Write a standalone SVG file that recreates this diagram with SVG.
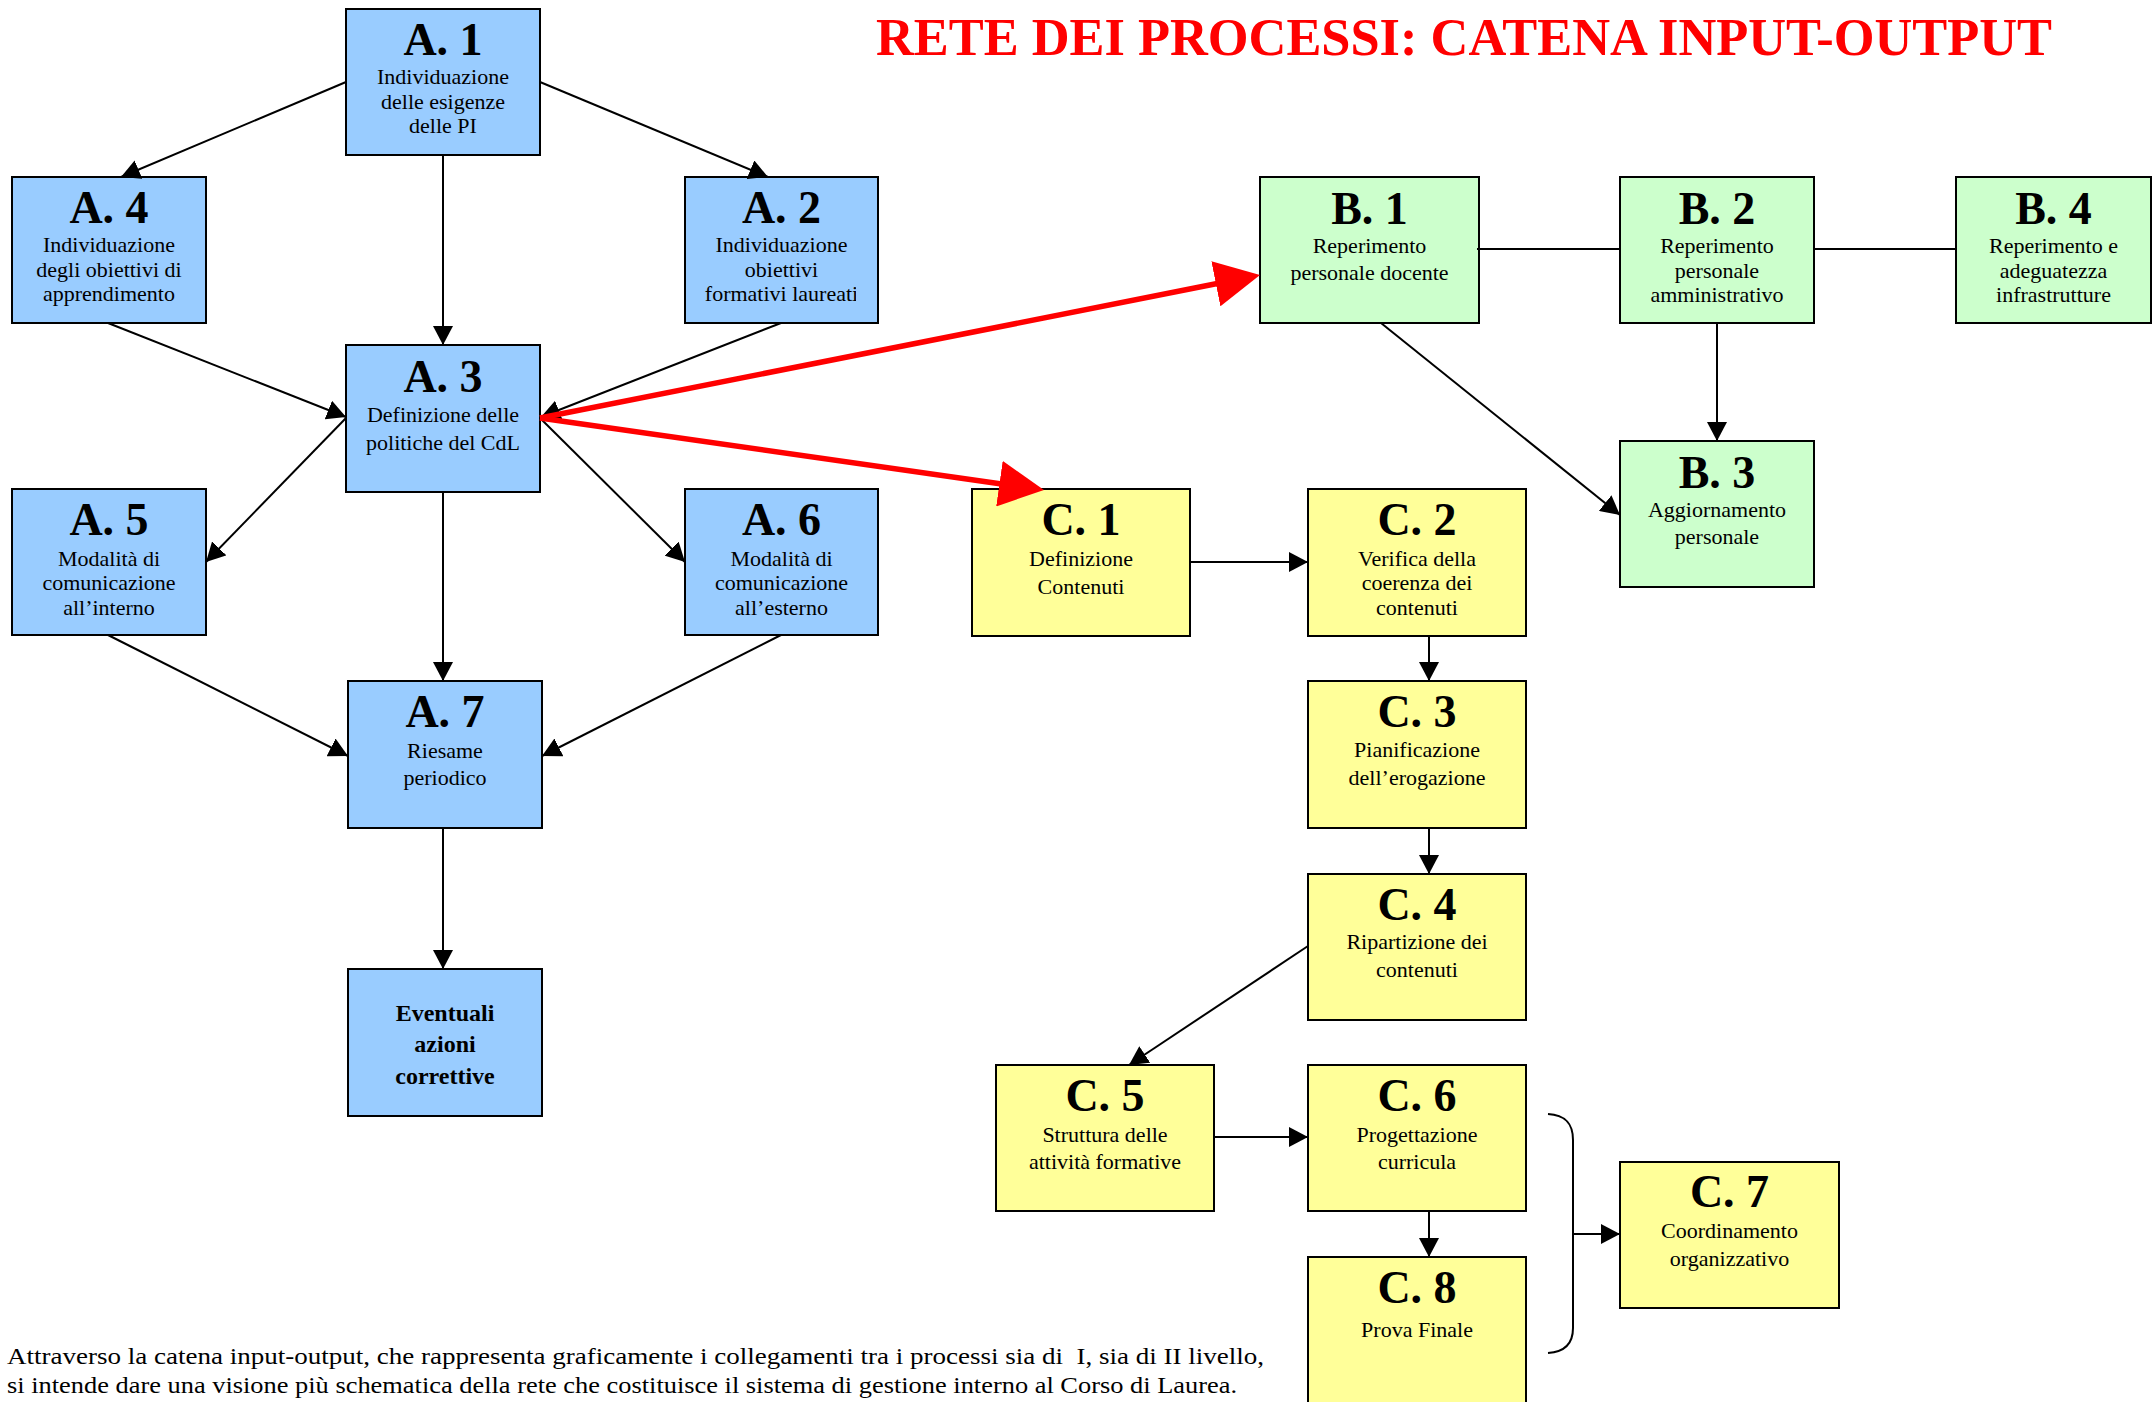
<svg xmlns="http://www.w3.org/2000/svg" width="2152" height="1402" viewBox="0 0 2152 1402">
<style>
.bx{stroke:#000;stroke-width:2}
.blue{fill:#99CCFF}
.green{fill:#CCFFCC}
.yellow{fill:#FFFF99}
text{font-family:"Liberation Serif","Times New Roman",serif;fill:#000}
.t{font-weight:bold;font-size:46px;text-anchor:middle}
.b{font-size:22px;text-anchor:middle}
.e{font-weight:bold;font-size:24px;text-anchor:middle}
.ln{stroke:#000;stroke-width:2;fill:none}
.arr{marker-end:url(#ah)}
.red{stroke:#FF0000;stroke-width:5.5;fill:none;marker-end:url(#rh)}
.title{font-weight:bold;font-size:52px;fill:#FF0000}
.desc{font-size:23px;white-space:pre}
</style>
<defs>
<marker id="ah" markerUnits="userSpaceOnUse" markerWidth="20" markerHeight="20" refX="19" refY="10" orient="auto">
<path d="M0,0 L19,10 L0,20 z" fill="#000"/>
</marker>
<marker id="rh" markerUnits="userSpaceOnUse" markerWidth="46" markerHeight="46" refX="4" refY="23" orient="auto">
<path d="M0,0 L45,23 L0,46 z" fill="#FF0000"/>
</marker>
<clipPath id="clipA2"><rect x="685" y="177" width="171" height="146"/></clipPath>
</defs>
<rect width="2152" height="1402" fill="#fff"/>

<text class="title" x="876" y="55" textLength="1176" lengthAdjust="spacingAndGlyphs">RETE DEI PROCESSI: CATENA INPUT-OUTPUT</text>

<g id="A1"><rect class="bx blue" x="346" y="9" width="194" height="146"/>
<text class="t" x="443" y="55">A. 1</text>
<text class="b" x="443" y="84">Individuazione</text>
<text class="b" x="443" y="108.5">delle esigenze</text>
<text class="b" x="443" y="133">delle PI</text></g>

<g id="A4"><rect class="bx blue" x="12" y="177" width="194" height="146"/>
<text class="t" x="109" y="223">A. 4</text>
<text class="b" x="109" y="252">Individuazione</text>
<text class="b" x="109" y="276.5">degli obiettivi di</text>
<text class="b" x="109" y="301">apprendimento</text></g>

<g id="A2"><rect class="bx blue" x="685" y="177" width="193" height="146"/>
<text class="t" x="781.5" y="223">A. 2</text>
<text class="b" x="781.5" y="252">Individuazione</text>
<text class="b" x="781.5" y="276.5">obiettivi</text>
<text class="b" x="781.5" y="301" clip-path="url(#clipA2)">formativi laureati</text></g>

<g id="A3"><rect class="bx blue" x="346" y="345" width="194" height="147"/>
<text class="t" x="443" y="392">A. 3</text>
<text class="b" x="443" y="422">Definizione delle</text>
<text class="b" x="443" y="450">politiche del CdL</text></g>

<g id="A5"><rect class="bx blue" x="12" y="489" width="194" height="146"/>
<text class="t" x="109" y="535">A. 5</text>
<text class="b" x="109" y="566">Modalità di</text>
<text class="b" x="109" y="590">comunicazione</text>
<text class="b" x="109" y="615">all’interno</text></g>

<g id="A6"><rect class="bx blue" x="685" y="489" width="193" height="146"/>
<text class="t" x="781.5" y="535">A. 6</text>
<text class="b" x="781.5" y="566">Modalità di</text>
<text class="b" x="781.5" y="590">comunicazione</text>
<text class="b" x="781.5" y="615">all’esterno</text></g>

<g id="A7"><rect class="bx blue" x="348" y="681" width="194" height="147"/>
<text class="t" x="445" y="727">A. 7</text>
<text class="b" x="445" y="758">Riesame</text>
<text class="b" x="445" y="785">periodico</text></g>

<g id="EV"><rect class="bx blue" x="348" y="969" width="194" height="147"/>
<text class="e" x="445" y="1021">Eventuali</text>
<text class="e" x="445" y="1052">azioni</text>
<text class="e" x="445" y="1084">correttive</text></g>

<g id="B1"><rect class="bx green" x="1260" y="177" width="219" height="146"/>
<text class="t" x="1369.5" y="224">B. 1</text>
<text class="b" x="1369.5" y="253">Reperimento</text>
<text class="b" x="1369.5" y="280">personale docente</text></g>

<g id="B2"><rect class="bx green" x="1620" y="177" width="194" height="146"/>
<text class="t" x="1717" y="224">B. 2</text>
<text class="b" x="1717" y="253">Reperimento</text>
<text class="b" x="1717" y="277.5">personale</text>
<text class="b" x="1717" y="302">amministrativo</text></g>

<g id="B4"><rect class="bx green" x="1956" y="177" width="195" height="146"/>
<text class="t" x="2053.5" y="224">B. 4</text>
<text class="b" x="2053.5" y="253">Reperimento e</text>
<text class="b" x="2053.5" y="277.5">adeguatezza</text>
<text class="b" x="2053.5" y="302">infrastrutture</text></g>

<g id="B3"><rect class="bx green" x="1620" y="441" width="194" height="146"/>
<text class="t" x="1717" y="488">B. 3</text>
<text class="b" x="1717" y="517">Aggiornamento</text>
<text class="b" x="1717" y="544">personale</text></g>

<g id="C1"><rect class="bx yellow" x="972" y="489" width="218" height="147"/>
<text class="t" x="1081" y="535">C. 1</text>
<text class="b" x="1081" y="566">Definizione</text>
<text class="b" x="1081" y="594">Contenuti</text></g>

<g id="C2"><rect class="bx yellow" x="1308" y="489" width="218" height="147"/>
<text class="t" x="1417" y="535">C. 2</text>
<text class="b" x="1417" y="566">Verifica della</text>
<text class="b" x="1417" y="590">coerenza dei</text>
<text class="b" x="1417" y="615">contenuti</text></g>

<g id="C3"><rect class="bx yellow" x="1308" y="681" width="218" height="147"/>
<text class="t" x="1417" y="727">C. 3</text>
<text class="b" x="1417" y="757">Pianificazione</text>
<text class="b" x="1417" y="785">dell’erogazione</text></g>

<g id="C4"><rect class="bx yellow" x="1308" y="874" width="218" height="146"/>
<text class="t" x="1417" y="920">C. 4</text>
<text class="b" x="1417" y="949">Ripartizione dei</text>
<text class="b" x="1417" y="977">contenuti</text></g>

<g id="C5"><rect class="bx yellow" x="996" y="1065" width="218" height="146"/>
<text class="t" x="1105" y="1111">C. 5</text>
<text class="b" x="1105" y="1142">Struttura delle</text>
<text class="b" x="1105" y="1169">attività formative</text></g>

<g id="C6"><rect class="bx yellow" x="1308" y="1065" width="218" height="146"/>
<text class="t" x="1417" y="1111">C. 6</text>
<text class="b" x="1417" y="1142">Progettazione</text>
<text class="b" x="1417" y="1169">curricula</text></g>

<g id="C8"><rect class="bx yellow" x="1308" y="1257" width="218" height="160"/>
<text class="t" x="1417" y="1303">C. 8</text>
<text class="b" x="1417" y="1337">Prova Finale</text></g>

<g id="C7"><rect class="bx yellow" x="1620" y="1162" width="219" height="146"/>
<text class="t" x="1729.5" y="1207">C. 7</text>
<text class="b" x="1729.5" y="1238">Coordinamento</text>
<text class="b" x="1729.5" y="1266">organizzativo</text></g>

<g id="connectors">
<path class="ln arr" d="M346,82 L121,177"/>
<path class="ln arr" d="M540,82 L768,177"/>
<path class="ln arr" d="M443,155 L443,345"/>
<path class="ln arr" d="M108,323 L346,417"/>
<path class="ln arr" d="M781,323 L541,417"/>
<path class="ln arr" d="M346,418 L206,562"/>
<path class="ln arr" d="M540,418 L685,562"/>
<path class="ln arr" d="M443,492 L443,681"/>
<path class="ln arr" d="M108,635 L348,756"/>
<path class="ln arr" d="M781,635 L542,756"/>
<path class="ln arr" d="M443,828 L443,969"/>
<path class="ln" d="M1477,249 L1620,249"/>
<path class="ln" d="M1813,249 L1956,249"/>
<path class="ln arr" d="M1717,323 L1717,441"/>
<path class="ln arr" d="M1381,323 L1620,515"/>
<path class="ln arr" d="M1190,562 L1308,562"/>
<path class="ln arr" d="M1429,636 L1429,681"/>
<path class="ln arr" d="M1429,828 L1429,874"/>
<path class="ln arr" d="M1308,946 L1129,1065"/>
<path class="ln arr" d="M1214,1137 L1308,1137"/>
<path class="ln arr" d="M1429,1211 L1429,1257"/>
<path class="ln" d="M1548,1114 C1564,1115 1573,1122 1573,1140 L1573,1328 C1573,1344 1564,1352 1548,1353"/>
<path class="ln arr" d="M1573,1234 L1620,1234"/>
<path class="red" d="M540,418 L1219.8,283"/>
<path class="red" d="M540,418 L1003.4,484.2"/>
</g>

<text class="desc" x="7" y="1364" textLength="1257" lengthAdjust="spacingAndGlyphs">Attraverso la catena input-output, che rappresenta graficamente i collegamenti tra i processi sia di  I, sia di II livello,</text>
<text class="desc" x="7" y="1393" textLength="1230" lengthAdjust="spacingAndGlyphs">si intende dare una visione più schematica della rete che costituisce il sistema di gestione interno al Corso di Laurea.</text>
</svg>
